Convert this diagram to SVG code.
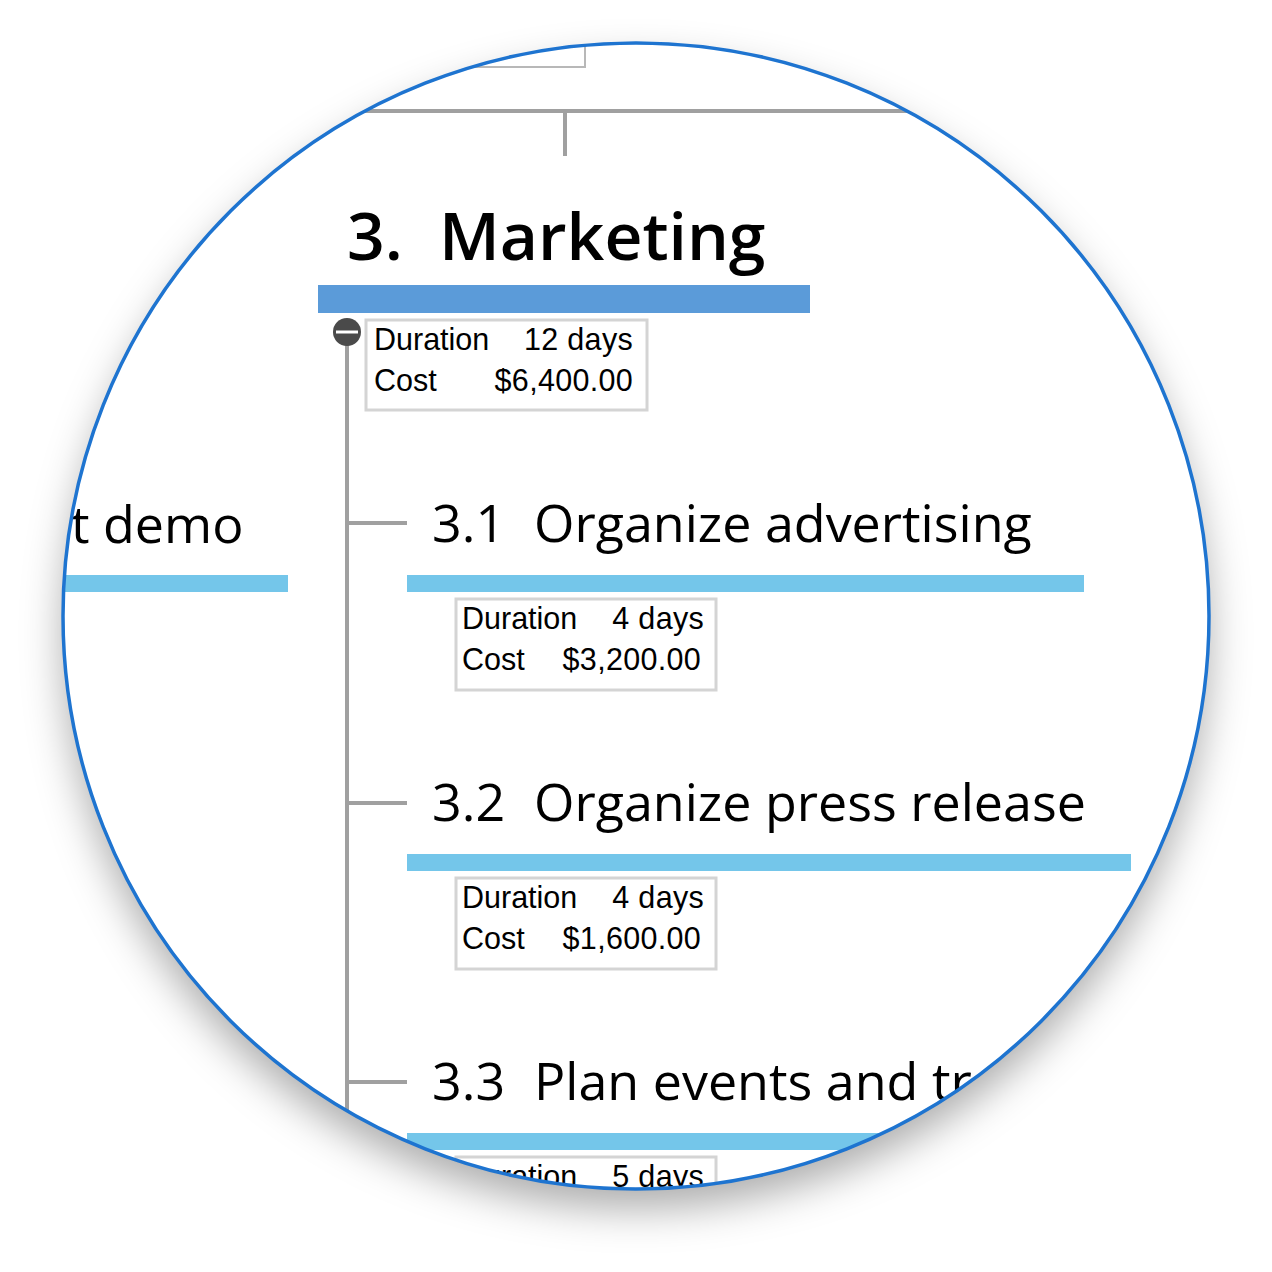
<svg xmlns="http://www.w3.org/2000/svg" width="1272" height="1272" viewBox="0 0 1272 1272">
<defs>
<filter id="sh" x="-20%" y="-20%" width="140%" height="140%">
<feDropShadow dx="0" dy="20" stdDeviation="20" flood-color="#000" flood-opacity="0.32"/>
</filter>
<clipPath id="lens"><circle cx="636" cy="616" r="573"/></clipPath>
<style>
.conn{stroke:#a0a0a0;stroke-width:4;fill:none}
.thin{stroke:#b8b8b8;stroke-width:2;fill:none}
.h0{font-family:"Open Sans","Noto Sans",sans-serif;font-weight:600;font-size:66px;fill:#000}
.h1{font-family:"Open Sans","Noto Sans",sans-serif;font-size:52px;fill:#000}
.info{font-family:"Liberation Sans",Arial,sans-serif;font-size:30.5px;fill:#000}
.val{letter-spacing:0.3px}
.box{fill:#fff;stroke:#d4d4d4;stroke-width:3}
.bar0{fill:#5b9bd9}
.bar1{fill:#74c6ea}
</style>
</defs>
<rect width="1272" height="1272" fill="#fff"/>
<circle cx="636" cy="616" r="573" fill="#fff" filter="url(#sh)"/>
<g clip-path="url(#lens)">
<g id="connectors">
<path class="thin" d="M40 67 H585 V20"/>
<path class="conn" d="M40 111 H1240 M565 111 V156"/>
<path class="conn" d="M347 332 V1260"/>
<path class="conn" d="M349 523 H407 M349 803 H407 M349 1082 H407"/>
</g>
<g id="node-left">
<text class="h1" x="71" y="543">t demo</text>
<rect class="bar1" x="40" y="575" width="248" height="17"/>
</g>
<g id="node-3">
<text class="h0" y="260"><tspan x="347">3.</tspan><tspan x="439">Marketing</tspan></text>
<rect class="bar0" x="318" y="285" width="492" height="28"/>
<rect class="box" x="366" y="320" width="281" height="90"/>
<text class="info" x="374" y="350">Duration</text>
<text class="info val" x="633" y="350" text-anchor="end">12 days</text>
<text class="info" x="374" y="391">Cost</text>
<text class="info val" x="633" y="391" text-anchor="end">$6,400.00</text>
<circle cx="347" cy="332" r="14" fill="#4a4a4a"/>
<line x1="336" y1="332" x2="358" y2="332" stroke="#fff" stroke-width="3"/>
</g>
<g id="node-3-1">
<text class="h1" y="542"><tspan x="432">3.1</tspan><tspan x="534">Organize advertising</tspan></text>
<rect class="bar1" x="407" y="575" width="677" height="17"/>
<rect class="box" x="456" y="599" width="260" height="91"/>
<text class="info" x="462" y="629">Duration</text>
<text class="info val" x="704" y="629" text-anchor="end">4 days</text>
<text class="info" x="462" y="670">Cost</text>
<text class="info val" x="701" y="670" text-anchor="end">$3,200.00</text>
</g>
<g id="node-3-2">
<text class="h1" y="821"><tspan x="432">3.2</tspan><tspan x="534">Organize press release</tspan></text>
<rect class="bar1" x="407" y="854" width="724" height="17"/>
<rect class="box" x="456" y="878" width="260" height="91"/>
<text class="info" x="462" y="908">Duration</text>
<text class="info val" x="704" y="908" text-anchor="end">4 days</text>
<text class="info" x="462" y="949">Cost</text>
<text class="info val" x="701" y="949" text-anchor="end">$1,600.00</text>
</g>
<g id="node-3-3">
<text class="h1" y="1100"><tspan x="432">3.3</tspan><tspan x="534">Plan events and tr</tspan></text>
<rect class="bar1" x="407" y="1133" width="724" height="17"/>
<rect class="box" x="456" y="1157" width="260" height="91"/>
<text class="info" x="462" y="1187">Duration</text>
<text class="info val" x="704" y="1187" text-anchor="end">5 days</text>
</g>
</g>
<circle cx="636" cy="616" r="573" fill="none" stroke="#1e74d0" stroke-width="3.5"/>
</svg>
